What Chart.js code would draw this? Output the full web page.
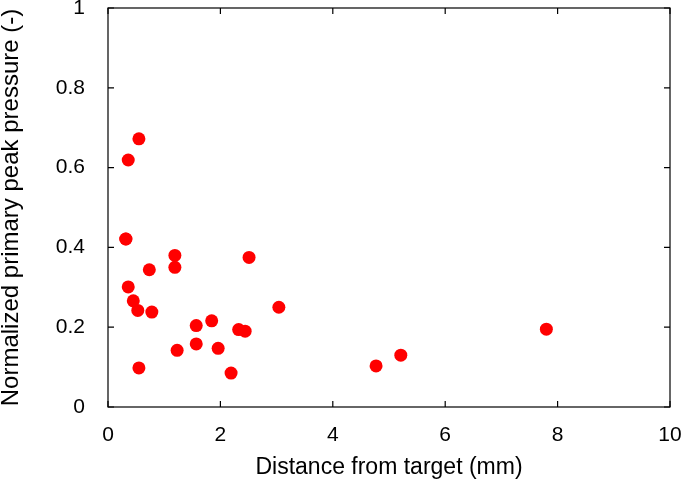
<!DOCTYPE html>
<html>
<head>
<meta charset="utf-8">
<script src="https://cdn.jsdelivr.net/npm/chart.js@4.4.1/dist/chart.umd.min.js"></script>
<style>
  html, body { margin: 0; padding: 0; background: #fff; }
  #wrap { width: 685px; height: 481px; }
</style>
</head>
<body>
<div id="wrap"><canvas id="chart"></canvas></div>
<script>
// data
const distance = [0.32, 0.36, 0.55, 0.315, 0.36, 0.45, 0.53, 0.55, 0.735, 0.78,
  1.19, 1.19, 1.23, 1.57, 1.57, 1.845, 1.96, 2.19, 2.325, 2.44, 2.51, 3.04,
  4.77, 5.21, 7.80];
const pressure = [0.421, 0.619, 0.672, 0.421, 0.301, 0.266, 0.242, 0.098, 0.344, 0.238,
  0.380, 0.350, 0.142, 0.204, 0.158, 0.216, 0.147, 0.085, 0.194, 0.190, 0.375, 0.250,
  0.103, 0.130, 0.195];
const xTicks = [0, 2, 4, 6, 8, 10];
const yTicks = [0, 0.2, 0.4, 0.6, 0.8, 1];

const points = distance.map((d, i) => ({ x: d, y: pressure[i] }));
const FONT = "'Liberation Sans', Arial, Helvetica, sans-serif";

// box round the plot and inward ticks on all four sides
const frame = {
  id: 'frame',
  afterDatasetsDraw(chart) {
    const ctx = chart.ctx;
    const a = chart.chartArea;
    const xs = chart.scales.x, ys = chart.scales.y;
    const len = 6;
    ctx.save();
    ctx.strokeStyle = '#000';
    ctx.lineWidth = 1.2;
    ctx.strokeRect(a.left, a.top, a.right - a.left, a.bottom - a.top);
    ctx.beginPath();
    xTicks.forEach(v => {
      const px = xs.getPixelForValue(v);
      ctx.moveTo(px, a.bottom); ctx.lineTo(px, a.bottom - len);
      ctx.moveTo(px, a.top); ctx.lineTo(px, a.top + len);
    });
    yTicks.forEach(v => {
      const py = ys.getPixelForValue(v);
      ctx.moveTo(a.left, py); ctx.lineTo(a.left + len, py);
      ctx.moveTo(a.right, py); ctx.lineTo(a.right - len, py);
    });
    ctx.stroke();
    ctx.restore();
  }
};

// keep the plot box where it is in the picture, labels may overhang
function noPad(s) {
  s.paddingTop = 0; s.paddingBottom = 0; s.paddingLeft = 0; s.paddingRight = 0;
}

new Chart(document.getElementById('chart'), {
  type: 'scatter',
  data: {
    datasets: [{
      data: points,
      backgroundColor: '#ff0000',
      borderColor: '#ff0000',
      borderWidth: 0,
      pointRadius: 6.5,
      pointHoverRadius: 6.5
    }]
  },
  options: {
    responsive: true,
    maintainAspectRatio: false,
    animation: false,
    layout: { padding: { top: 8, right: 15, left: 0, bottom: 0 } },
    plugins: { legend: { display: false }, tooltip: { enabled: false } },
    scales: {
      x: {
        type: 'linear',
        min: 0, max: 10,
        afterBuildTicks: s => { s.ticks = xTicks.map(v => ({ value: v })); },
        afterFit: s => { s.height = 74; noPad(s); },
        grid: { display: false },
        border: { display: false },
        ticks: { color: '#000', font: { family: FONT, size: 21 }, padding: 8, maxRotation: 0,
                 callback: v => String(v) },
        title: { display: true, text: 'Distance from target (mm)', color: '#000',
                 font: { family: FONT, size: 23 }, padding: { top: 2, bottom: 0 } }
      },
      y: {
        type: 'linear',
        min: 0, max: 1,
        afterBuildTicks: s => { s.ticks = yTicks.map(v => ({ value: v })); },
        afterFit: s => { s.width = 108; noPad(s); },
        grid: { display: false },
        border: { display: false },
        ticks: { color: '#000', font: { family: FONT, size: 21 }, padding: 15,
                 callback: v => String(v) },
        title: { display: true, text: 'Normalized primary peak pressure (-)', color: '#000',
                 font: { family: FONT, size: 24 }, padding: { top: -3, bottom: 4 } }
      }
    }
  },
  plugins: [frame]
});
</script>
</body>
</html>
